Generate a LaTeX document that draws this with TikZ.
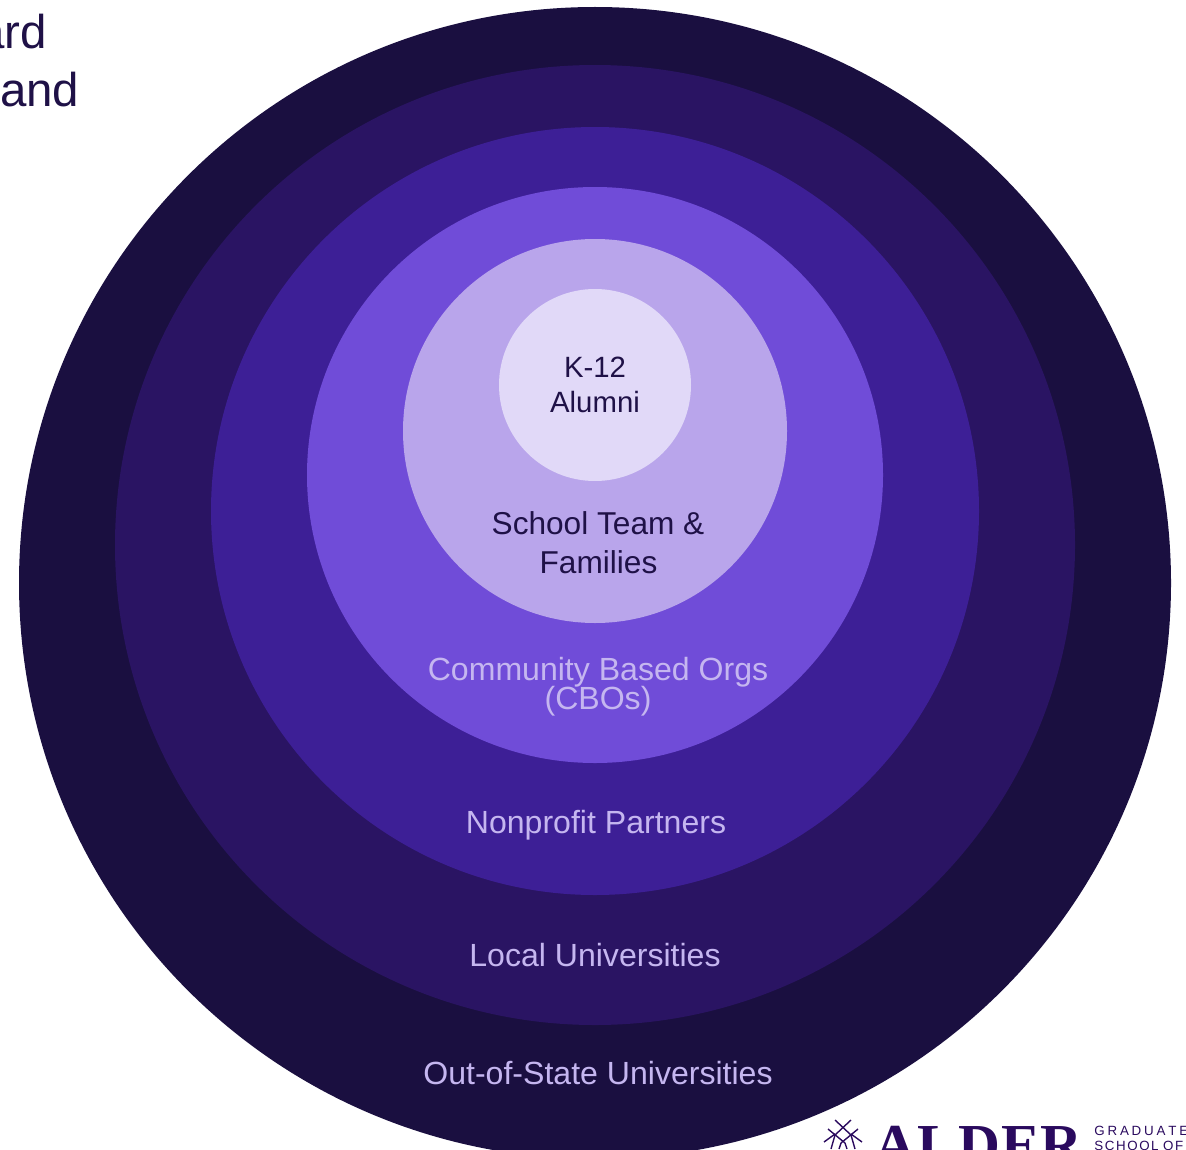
\documentclass[tikz,border=0pt]{standalone}
\usepackage{fontspec}
\setmainfont{Liberation Sans}
\newfontfamily\alderfont{Liberation Serif}
\definecolor{ringa}{HTML}{1A0F40}
\definecolor{ringb}{HTML}{2A1463}
\definecolor{ringc}{HTML}{3D1F96}
\definecolor{ringd}{HTML}{704CD8}
\definecolor{ringe}{HTML}{B9A5EB}
\definecolor{ringf}{HTML}{E1D9F8}
\definecolor{inkdark}{HTML}{1F1147}
\definecolor{inklight}{HTML}{C5B6F0}
\definecolor{inklogo}{HTML}{2A0A5E}
\tikzset{
  darklabel/.style={text=inkdark,font=\fontsize{16.7}{20}\selectfont,anchor=base,inner sep=0pt},
  teamlabel/.style={darklabel,font=\fontsize{18}{22}\selectfont},
  lightlabel/.style={text=inklight,font=\fontsize{18.25}{22}\selectfont,anchor=base,inner sep=0pt},
  headline/.style={text=inkdark,font=\fontsize{27}{32}\selectfont,anchor=base east,inner sep=0pt},
  logotext/.style={text=inklogo,font=\fontsize{7.6}{9}\selectfont,anchor=base west,inner sep=0pt},
  logoline/.style={inklogo,line width=0.8pt},
}
\begin{document}
\begin{tikzpicture}[x=0.02cm,y=-0.02cm]
      \useasboundingbox (0,0) rectangle (1186,1149) ;
      \clip (0,0) rectangle (1186,1149) ;
      \foreach \cy/\rad/\col in {583/576/ringa,545/480/ringb,511/384/ringc,475/288/ringd,431/192/ringe,385/96/ringf}
        \fill[\col] (595,\cy) circle (\rad) ;
      \node[headline] (ard) at (47,49) {ard} ;
      \node[headline] (and) at (79.5,107) {and} ;
      \node[darklabel] (kt) at (595,377) {K-12} ;
      \node[darklabel] (alumni) at (595,412) {Alumni} ;
      \node[teamlabel] (team) at (598,534) {School Team \&} ;
      \node[teamlabel] (families) at (598.5,573) {Families} ;
      \node[lightlabel] (cbo) at (598,680) {Community Based Orgs} ;
      \node[lightlabel] (cbos) at (598,709) {(CBOs)} ;
      \node[lightlabel] (nonprofit) at (596,833) {Nonprofit Partners} ;
      \node[lightlabel] (local) at (595,966) {Local Universities} ;
      \node[lightlabel] (oos) at (598,1084) {Out-of-State Universities} ;
      % logo, cut off by the page
      \node[text=inklogo,font=\alderfont\bfseries\fontsize{33}{36}\selectfont,anchor=base west,inner sep=0pt] (alder) at (874,1164) {A\hspace{1pt}L\hspace{1pt}D\hspace{0.5pt}E\hspace{0.5pt}R} ;
      \node[logotext] (grad) at (1094,1135) {G\hspace{1.6pt}R\hspace{1.6pt}A\hspace{1.6pt}D\hspace{1.6pt}U\hspace{1.6pt}A\hspace{1.6pt}T\hspace{1.6pt}E} ;
      \node[logotext] (school) at (1094,1150) {S\hspace{0.9pt}C\hspace{0.9pt}H\hspace{0.9pt}O\hspace{0.9pt}O\hspace{0.9pt}L\hspace{2.5pt}O\hspace{0.9pt}F} ;
      \foreach \sx in {-1,1} {
        \draw[logoline] (843-\sx*8,1120)--(843+\sx*8,1135)--(843+\sx*12,1149) ;
        \draw[logoline] (843-\sx*15,1129)--(843+\sx*2,1143)--(843+\sx*4,1149) ;
        \draw[logoline] (843-\sx*19,1142)--(843-\sx*8,1134) ;
      }
    \end{tikzpicture}
\end{document}
